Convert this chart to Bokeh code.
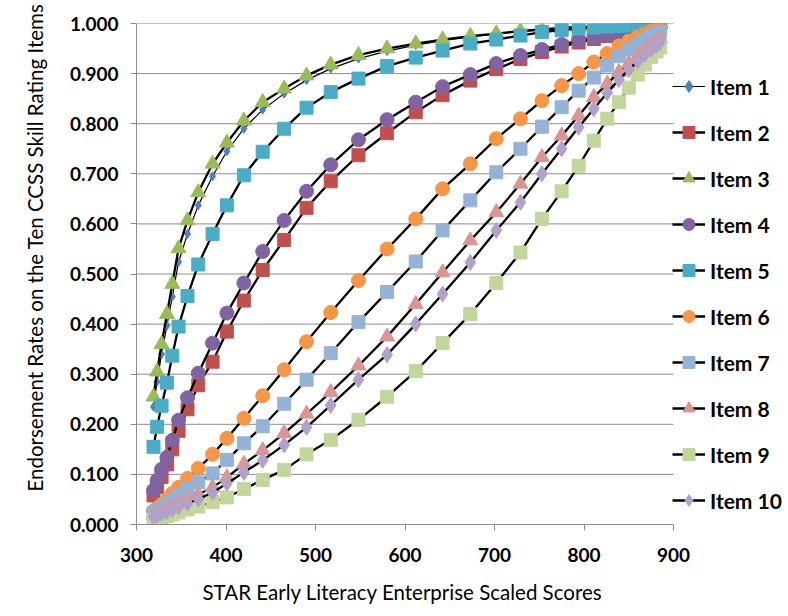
from bokeh.plotting import figure
from bokeh.models import Range1d, FixedTicker, NumeralTickFormatter, Legend, LegendItem, Title
from bokeh.embed import file_html
from bokeh.resources import INLINE

scores = [319, 323, 328, 334, 340, 347, 357, 369, 385, 401, 420, 441, 465, 490, 517,
          548, 580, 612, 642, 673, 702, 729, 753, 775, 794, 811, 826, 839, 850, 860,
          868, 875, 881, 885]

item1 = [0.235, 0.285, 0.340, 0.397, 0.455, 0.524, 0.580, 0.637, 0.695, 0.745, 0.790, 0.828,
         0.860, 0.887, 0.910, 0.930, 0.945, 0.957, 0.966, 0.973, 0.979, 0.984, 0.987, 0.990,
         0.992, 0.994, 0.995, 0.996, 0.997, 0.997, 0.998, 0.998, 0.999, 0.999]
item2 = [0.058, 0.075, 0.095, 0.120, 0.150, 0.187, 0.230, 0.278, 0.325, 0.385, 0.447, 0.508,
         0.568, 0.632, 0.685, 0.737, 0.781, 0.823, 0.857, 0.886, 0.909, 0.929, 0.943, 0.954,
         0.962, 0.969, 0.975, 0.980, 0.984, 0.987, 0.989, 0.991, 0.992, 0.993]
item3 = [0.255, 0.305, 0.360, 0.420, 0.480, 0.551, 0.607, 0.663, 0.720, 0.762, 0.806, 0.843,
         0.870, 0.896, 0.918, 0.937, 0.950, 0.960, 0.968, 0.975, 0.980, 0.985, 0.988, 0.991,
         0.993, 0.994, 0.995, 0.996, 0.997, 0.998, 0.998, 0.999, 0.999, 0.999]
item4 = [0.068, 0.088, 0.110, 0.134, 0.168, 0.208, 0.253, 0.302, 0.362, 0.422, 0.482, 0.545,
         0.607, 0.665, 0.718, 0.768, 0.808, 0.843, 0.874, 0.898, 0.920, 0.936, 0.948, 0.958,
         0.966, 0.972, 0.977, 0.981, 0.985, 0.988, 0.990, 0.992, 0.993, 0.994]
item5 = [0.155, 0.195, 0.237, 0.283, 0.337, 0.395, 0.456, 0.519, 0.580, 0.637, 0.697, 0.744,
         0.790, 0.832, 0.863, 0.890, 0.915, 0.932, 0.946, 0.960, 0.968, 0.976, 0.983, 0.987,
         0.990, 0.992, 0.994, 0.995, 0.996, 0.997, 0.998, 0.998, 0.999, 0.999]
item6 = [0.027, 0.032, 0.040, 0.050, 0.062, 0.074, 0.092, 0.112, 0.140, 0.172, 0.212, 0.257,
         0.309, 0.365, 0.423, 0.487, 0.550, 0.610, 0.670, 0.720, 0.770, 0.810, 0.846, 0.876,
         0.900, 0.923, 0.940, 0.955, 0.965, 0.973, 0.979, 0.984, 0.987, 0.990]
item7 = [0.022, 0.027, 0.033, 0.040, 0.048, 0.058, 0.071, 0.084, 0.102, 0.129, 0.162, 0.196,
         0.241, 0.289, 0.342, 0.404, 0.464, 0.525, 0.587, 0.647, 0.703, 0.750, 0.794, 0.833,
         0.866, 0.892, 0.916, 0.935, 0.948, 0.958, 0.967, 0.974, 0.979, 0.983]
item8 = [0.018, 0.021, 0.025, 0.030, 0.035, 0.042, 0.050, 0.060, 0.074, 0.094, 0.121, 0.148,
         0.182, 0.221, 0.264, 0.317, 0.375, 0.440, 0.503, 0.567, 0.623, 0.680, 0.733, 0.776,
         0.816, 0.853, 0.880, 0.903, 0.920, 0.935, 0.947, 0.957, 0.964, 0.970]
item9 = [0.008, 0.011, 0.014, 0.017, 0.020, 0.024, 0.030, 0.036, 0.045, 0.054, 0.071, 0.089,
         0.109, 0.140, 0.169, 0.209, 0.255, 0.306, 0.362, 0.420, 0.482, 0.543, 0.610, 0.665,
         0.716, 0.766, 0.810, 0.843, 0.872, 0.898, 0.918, 0.933, 0.944, 0.952]
item10 = [0.016, 0.018, 0.022, 0.026, 0.030, 0.035, 0.042, 0.051, 0.064, 0.082, 0.104, 0.128,
          0.159, 0.194, 0.238, 0.289, 0.339, 0.400, 0.460, 0.523, 0.587, 0.643, 0.700, 0.750,
          0.793, 0.830, 0.862, 0.888, 0.908, 0.925, 0.938, 0.948, 0.956, 0.962]

labels = ["Item 1", "Item 2", "Item 3", "Item 4", "Item 5",
          "Item 6", "Item 7", "Item 8", "Item 9", "Item 10"]
series = [item1, item2, item3, item4, item5, item6, item7, item8, item9, item10]

x_ticks = [300, 400, 500, 600, 700, 800, 900]
y_ticks = [0.0, 0.1, 0.2, 0.3, 0.4, 0.5, 0.6, 0.7, 0.8, 0.9, 1.0]
x_min, x_max = 300, 900

x_title = "STAR Early Literacy Enterprise Scaled Scores"
y_title = "Endorsement Rates on the Ten CCSS Skill Rating Items"

colors = ["#4F81BD", "#C0504D", "#9BBB59", "#8064A2", "#4BACC6",
          "#F79646", "#95B3D7", "#D99694", "#C3D69B", "#B3A2C7"]
markers = ["diamond", "square", "triangle", "circle", "square",
           "circle", "square", "triangle", "square", "diamond"]
sizes = [9, 13, 15, 14, 13, 14, 13, 15, 13, 16]
lwidths = [1.2, 2.3, 2.3, 2.3, 2.3, 2.3, 2.3, 2.3, 2.3, 2.3]

FONT = "Lato"
W, H = 788, 616
LEFT, TOP, BOTTOM = 136, 23, 92
PLOT_W = 537  # pixel width of the 300..900 span
# frame extends to the right edge so the legend can sit beside the data area
x_end = x_min + (W - LEFT) * (x_max - x_min) / PLOT_W

p = figure(width=W, height=H, x_range=Range1d(x_min, x_end), y_range=Range1d(0, 1),
           output_backend="svg", toolbar_location=None,
           min_border_left=LEFT, min_border_right=0, min_border_top=TOP, min_border_bottom=BOTTOM)
p.outline_line_color = None
p.background_fill_color = "white"
p.border_fill_color = "white"

p.xgrid.visible = False
p.ygrid.visible = False
GRID = "#8C8C8C"
p.segment(x0=[x_min] * len(y_ticks), y0=y_ticks, x1=[x_max] * len(y_ticks), y1=y_ticks,
          line_color=GRID, line_width=1)

p.xaxis.ticker = FixedTicker(ticks=x_ticks)
p.xaxis.bounds = (x_min, x_max)
p.yaxis.ticker = FixedTicker(ticks=y_ticks)
p.yaxis.formatter = NumeralTickFormatter(format="0.000")
for ax in [p.xaxis[0], p.yaxis[0]]:
    ax.axis_line_color = GRID
    ax.major_tick_line_color = GRID
    ax.minor_tick_line_color = None
    ax.major_tick_in = 0
    ax.major_tick_out = 6
    ax.major_label_text_font = FONT
    ax.major_label_text_font_style = "bold"
    ax.major_label_text_font_size = "19px"
    ax.major_label_text_color = "black"

p.yaxis.major_label_standoff = 12
p.xaxis.major_label_standoff = 17

p.add_layout(Title(text=y_title, align="left", offset=33, standoff=39,
                   text_font=FONT, text_font_size="20.5px", text_font_style="normal",
                   text_color="black"), "left")
p.add_layout(Title(text=x_title, align="left", offset=66, standoff=26,
                   text_font=FONT, text_font_size="20.5px", text_font_style="normal",
                   text_color="black"), "below")

items = []
for lab, ys, col, mk, sz, lw in zip(labels, series, colors, markers, sizes, lwidths):
    lr = p.line(scores, ys, line_color="black", line_width=lw)
    sr = p.scatter(scores, ys, marker=mk, size=sz, fill_color=col, line_color=col)
    items.append(LegendItem(label=lab, renderers=[lr, sr]))

legend = Legend(items=items, location=(PLOT_W - 1, 9), orientation="vertical",
                spacing=16, glyph_width=33, glyph_height=30, label_standoff=5,
                padding=0, margin=0, border_line_color=None, background_fill_alpha=0,
                label_text_font=FONT, label_text_font_style="bold",
                label_text_font_size="21px", label_text_color="black")
p.add_layout(legend)

open("out.html", "w").write(file_html(p, INLINE))
